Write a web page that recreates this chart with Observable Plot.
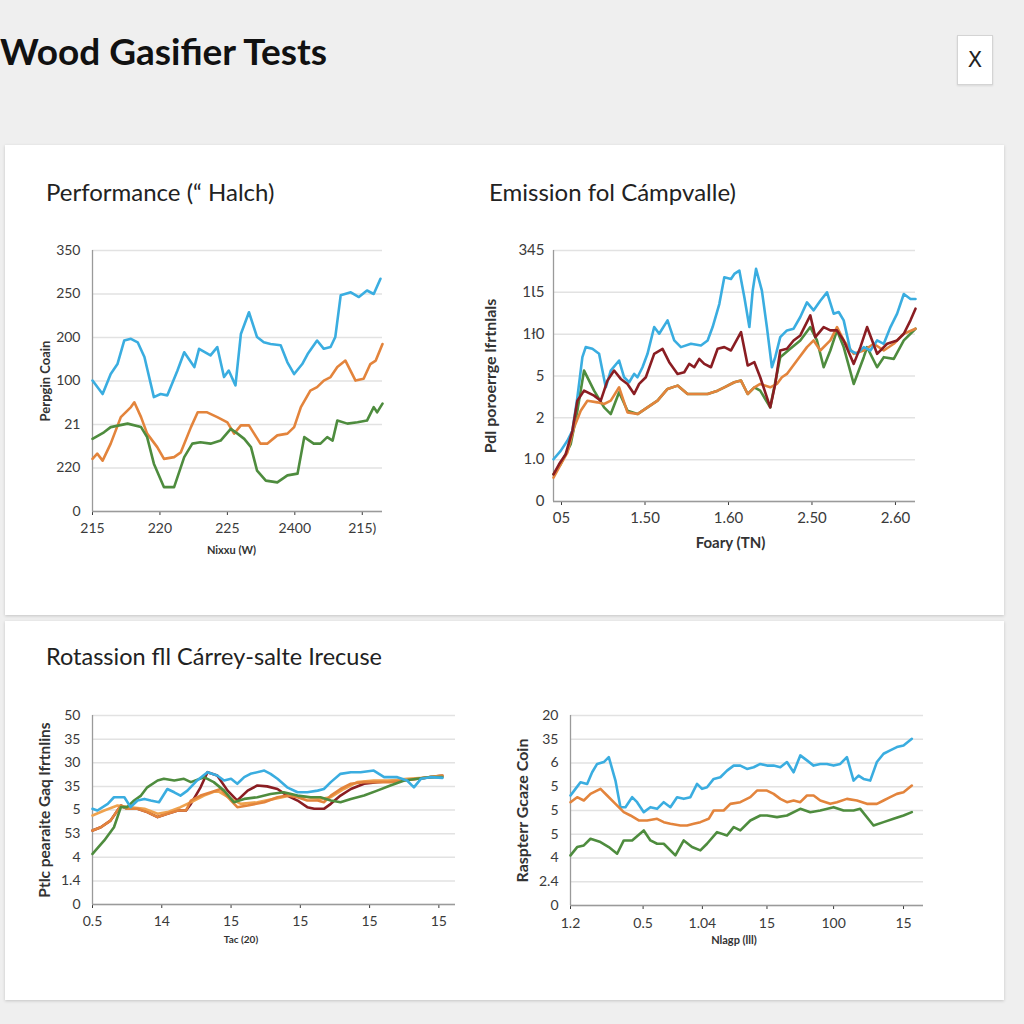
<!DOCTYPE html>
<html>
<head>
<meta charset="utf-8">
<script src="https://cdn.jsdelivr.net/npm/d3@7"></script>
<script src="https://cdn.jsdelivr.net/npm/@observablehq/plot@0.6"></script>
<style>
  html, body { margin: 0; padding: 0; }
  body { width: 1024px; height: 1024px; background: #efefef; position: relative; overflow: hidden; font-family: Lato, "Open Sans", sans-serif; }
  .abs { position: absolute; }
  .card { position: absolute; background: #fff; box-shadow: 0 1px 3px rgba(0,0,0,0.18); }
  .title { position: absolute; font-weight: 700; font-size: 37px; line-height: 1; color: #111; white-space: nowrap; }
  .ptitle { position: absolute; font-size: 24px; line-height: 1; color: #222; white-space: nowrap; }
  .xbtn { position: absolute; left: 957px; top: 35px; width: 34px; height: 48px; background: #fff; border: 1px solid #d4d4d4; box-shadow: 0 1px 2px rgba(0,0,0,0.1); font-size: 21px; color: #222; display: flex; align-items: center; justify-content: center; font-family: "DejaVu Sans", sans-serif; }
</style>
</head>
<body>
<div class="title" style="left:0px;top:32px">Wood Gasifier Tests</div>
<div class="xbtn">X</div>
<div class="card" style="left:5px;top:145px;width:999px;height:470px"></div>
<div class="card" style="left:5px;top:621px;width:999px;height:379px"></div>
<div class="ptitle" style="left:46px;top:180px">Performance (“ Halch)</div>
<div class="ptitle" style="left:489px;top:180px">Emission fol Cámpvalle)</div>
<div class="ptitle" style="left:46px;top:645px;font-size:23.5px">Rotassion fll Cárrey-salte Irecuse</div>
<div id="p1" class="abs" style="left:30px;top:225px"></div>
<div id="p2" class="abs" style="left:475px;top:225px"></div>
<div id="p3" class="abs" style="left:30px;top:690px"></div>
<div id="p4" class="abs" style="left:500px;top:690px"></div>
<script>
// ---------- colours ----------
const BLUE = "#3aade0", ORANGE = "#e3843c", GREEN = "#4e8c3e", RED = "#8a1d22", TAN = "#efa24e";

// ---------- Panel 1: Performance ----------
const p1XTicks = [0, 1, 2, 3, 4];
const p1XLabels = ["215", "220", "225", "2400", "215)"];
const p1YLabels = ["0", "220", "21", "100", "200", "250", "350"];
const p1Blue = [[0,3.01],[0.15,2.70],[0.27,3.16],[0.37,3.39],[0.47,3.93],[0.57,3.97],[0.67,3.89],[0.77,3.55],[0.91,2.63],[1.01,2.70],[1.11,2.67],[1.26,3.24],[1.36,3.66],[1.51,3.32],[1.58,3.74],[1.75,3.59],[1.85,3.78],[1.95,3.09],[2.02,3.24],[2.12,2.90],[2.20,4.08],[2.32,4.58],[2.44,4.01],[2.54,3.89],[2.64,3.85],[2.79,3.82],[2.89,3.43],[2.99,3.16],[3.11,3.39],[3.19,3.62],[3.33,3.93],[3.43,3.74],[3.53,3.78],[3.60,4.01],[3.68,4.97],[3.83,5.04],[3.95,4.93],[4.07,5.08],[4.17,5.00],[4.27,5.35]];
const p1Orange = [[0,1.21],[0.07,1.33],[0.15,1.17],[0.27,1.56],[0.42,2.17],[0.57,2.40],[0.62,2.51],[0.72,2.17],[0.81,1.79],[0.96,1.48],[1.06,1.21],[1.21,1.25],[1.31,1.36],[1.46,1.94],[1.56,2.28],[1.70,2.28],[1.85,2.17],[2.00,2.05],[2.10,1.79],[2.20,1.98],[2.32,1.98],[2.49,1.56],[2.59,1.56],[2.74,1.75],[2.89,1.79],[2.99,1.94],[3.09,2.40],[3.23,2.78],[3.33,2.86],[3.43,3.01],[3.53,3.09],[3.63,3.32],[3.75,3.47],[3.90,3.01],[4.02,3.05],[4.12,3.39],[4.20,3.47],[4.30,3.85]];
const p1Green = [[0,1.67],[0.17,1.82],[0.27,1.94],[0.52,2.02],[0.72,1.94],[0.81,1.71],[0.91,1.10],[1.06,0.56],[1.21,0.56],[1.36,1.25],[1.48,1.56],[1.60,1.59],[1.75,1.56],[1.90,1.63],[2.05,1.90],[2.15,1.79],[2.25,1.67],[2.35,1.48],[2.44,0.94],[2.57,0.71],[2.74,0.67],[2.89,0.83],[3.04,0.87],[3.14,1.71],[3.28,1.56],[3.38,1.56],[3.48,1.71],[3.56,1.63],[3.63,2.09],[3.78,2.02],[3.93,2.05],[4.07,2.09],[4.17,2.40],[4.22,2.28],[4.30,2.48]];

// ---------- Panel 2: Emission ----------
const p2XTicks = [0, 1, 2, 3, 4];
const p2XLabels = ["05", "1.50", "1.60", "2.50", "2.60"];
const p2YLabels = ["0", "1.0", "2", "5", "1ł0", "1Ɩ5", "345"];
const p2Blue = [[-0.096,1.01],[-0.01,1.21],[0.07,1.45],[0.13,1.69],[0.19,2.49],[0.25,3.45],[0.29,3.69],[0.37,3.65],[0.45,3.53],[0.49,3.13],[0.53,2.73],[0.59,3.13],[0.69,3.37],[0.75,2.97],[0.81,2.85],[0.87,3.05],[0.91,2.97],[0.97,3.21],[1.03,3.53],[1.11,4.17],[1.17,4.01],[1.27,4.33],[1.35,3.85],[1.43,3.69],[1.55,3.77],[1.67,3.73],[1.75,3.85],[1.81,4.17],[1.89,4.72],[1.95,5.36],[2.03,5.32],[2.07,5.44],[2.13,5.52],[2.19,4.88],[2.25,4.17],[2.29,5.04],[2.33,5.56],[2.40,5.04],[2.46,4.17],[2.52,3.21],[2.56,3.45],[2.62,3.93],[2.70,4.09],[2.78,4.13],[2.86,4.41],[2.94,4.76],[3.02,4.57],[3.10,4.80],[3.18,5.00],[3.26,4.49],[3.32,4.53],[3.38,4.33],[3.46,3.61],[3.54,3.53],[3.62,3.69],[3.70,3.61],[3.78,3.85],[3.86,3.77],[3.94,4.17],[4.02,4.49],[4.10,4.96],[4.18,4.84],[4.24,4.84]];
const p2Red = [[-0.096,0.65],[-0.03,0.89],[0.05,1.13],[0.13,1.69],[0.19,2.41],[0.27,2.65],[0.39,2.53],[0.47,2.41],[0.55,2.89],[0.63,3.13],[0.71,2.93],[0.79,2.81],[0.87,2.57],[0.93,2.81],[1.01,2.97],[1.11,3.53],[1.21,3.65],[1.29,3.33],[1.39,3.05],[1.47,3.09],[1.53,3.29],[1.59,3.21],[1.65,3.41],[1.71,3.29],[1.79,3.21],[1.87,3.65],[1.95,3.69],[2.03,3.61],[2.15,4.05],[2.23,3.25],[2.31,3.33],[2.38,2.97],[2.50,2.25],[2.56,2.81],[2.62,3.61],[2.70,3.65],[2.78,3.85],[2.86,3.97],[2.98,4.45],[3.04,3.93],[3.14,4.17],[3.22,4.09],[3.30,4.09],[3.38,3.85],[3.50,3.29],[3.58,3.69],[3.66,4.17],[3.78,3.53],[3.90,3.77],[4.02,3.85],[4.10,4.01],[4.18,4.33],[4.24,4.61]];
const p2Orange = [[-0.096,0.57],[-0.01,0.89],[0.07,1.17],[0.15,1.77],[0.23,2.17],[0.31,2.41],[0.43,2.37],[0.51,2.33],[0.59,2.41],[0.69,2.73],[0.79,2.13],[0.91,2.09],[1.03,2.25],[1.15,2.41],[1.27,2.69],[1.39,2.77],[1.51,2.57],[1.63,2.57],[1.75,2.57],[1.87,2.65],[1.95,2.73],[2.07,2.85],[2.15,2.89],[2.23,2.57],[2.31,2.73],[2.38,2.81],[2.50,2.73],[2.58,2.81],[2.64,2.97],[2.70,3.05],[2.82,3.37],[2.94,3.69],[3.02,3.85],[3.10,3.61],[3.22,3.85],[3.30,4.17],[3.38,3.85],[3.50,3.53],[3.62,3.61],[3.74,3.77],[3.86,3.61],[3.98,3.77],[4.10,4.01],[4.24,4.13]];
const p2Green = [[-0.096,0.65],[-0.01,0.89],[0.11,1.37],[0.19,2.17],[0.27,3.13],[0.39,2.65],[0.51,2.25],[0.59,2.09],[0.69,2.61],[0.79,2.17],[0.91,2.09],[1.03,2.25],[1.15,2.41],[1.27,2.69],[1.39,2.77],[1.51,2.57],[1.63,2.57],[1.75,2.57],[1.87,2.65],[1.95,2.73],[2.07,2.85],[2.15,2.89],[2.23,2.57],[2.31,2.73],[2.38,2.65],[2.50,2.25],[2.62,3.45],[2.74,3.65],[2.86,3.85],[2.98,4.17],[3.06,3.85],[3.14,3.21],[3.22,3.61],[3.30,4.09],[3.38,3.69],[3.50,2.81],[3.62,3.45],[3.66,3.69],[3.78,3.21],[3.86,3.45],[3.98,3.41],[4.10,3.85],[4.24,4.13]];

// ---------- Panel 3: Rotassion ----------
const p3XTicks = [0, 1, 2, 3, 4, 5];
const p3XLabels = ["0.5", "14", "15", "15", "15", "15"];
const p3YLabels = ["0", "1.4", "4", "53", "5", "35", "30", "35", "50"];
const p3Blue = [[0,4.05],[0.07,3.98],[0.22,4.26],[0.31,4.54],[0.46,4.54],[0.55,4.12],[0.65,4.40],[0.75,4.47],[0.84,4.40],[0.96,4.33],[1.08,4.89],[1.18,4.75],[1.27,4.61],[1.37,4.82],[1.51,5.25],[1.66,5.60],[1.80,5.46],[1.90,5.25],[2.00,5.32],[2.09,5.11],[2.19,5.39],[2.28,5.53],[2.48,5.67],[2.57,5.53],[2.67,5.32],[2.81,4.96],[2.96,4.75],[3.10,4.75],[3.25,4.82],[3.34,4.89],[3.44,5.18],[3.58,5.53],[3.73,5.60],[3.87,5.60],[4.06,5.67],[4.21,5.39],[4.40,5.39],[4.54,5.25],[4.64,4.96],[4.74,5.32],[4.88,5.39],[5.05,5.36]];
const p3Orange = [[0,3.13],[0.12,3.27],[0.26,3.55],[0.41,4.19],[0.50,4.05],[0.65,4.05],[0.79,3.91],[0.94,3.70],[1.08,3.84],[1.23,3.98],[1.35,3.98],[1.42,4.40],[1.56,4.61],[1.71,4.75],[1.85,4.89],[2.00,4.40],[2.09,4.12],[2.24,4.19],[2.48,4.33],[2.67,4.54],[2.81,4.61],[2.96,4.54],[3.10,4.40],[3.25,4.40],[3.34,4.33],[3.44,4.61],[3.58,4.89],[3.73,5.11],[3.92,5.18],[4.11,5.18],[4.30,5.18],[4.50,5.25],[4.69,5.32],[4.88,5.39],[5.05,5.42]];
const p3Tan = [[0,3.77],[0.17,3.98],[0.36,4.19],[0.55,4.12],[0.75,4.05],[0.94,3.84],[1.08,3.91],[1.27,4.12],[1.42,4.33],[1.61,4.61],[1.80,4.82],[2.00,4.47],[2.14,4.26],[2.38,4.33],[2.62,4.47],[2.86,4.61],[3.10,4.54],[3.30,4.47],[3.44,4.54],[3.63,4.89],[3.82,5.18],[4.06,5.25],[4.30,5.25],[4.54,5.32],[4.78,5.36],[5.05,5.46]];
const p3Red = [[0,3.13],[0.12,3.27],[0.26,3.55],[0.41,4.19],[0.50,4.05],[0.65,4.05],[0.79,3.91],[0.94,3.70],[1.08,3.84],[1.23,3.98],[1.35,3.98],[1.42,4.26],[1.56,4.96],[1.66,5.60],[1.80,5.46],[1.95,4.82],[2.09,4.40],[2.24,4.82],[2.38,5.04],[2.52,5.00],[2.67,4.89],[2.81,4.61],[2.96,4.40],[3.10,4.12],[3.20,4.05],[3.34,4.05],[3.44,4.26],[3.58,4.61],[3.73,4.89],[3.92,5.11],[4.11,5.18],[4.40,5.25],[4.69,5.32],[4.88,5.39],[5.05,5.46]];
const p3Green = [[0,2.14],[0.17,2.71],[0.31,3.27],[0.41,4.12],[0.50,4.12],[0.60,4.40],[0.70,4.61],[0.79,4.96],[0.94,5.25],[1.03,5.32],[1.18,5.25],[1.32,5.32],[1.42,5.18],[1.61,5.39],[1.75,5.18],[1.90,4.82],[2.04,4.33],[2.19,4.47],[2.38,4.54],[2.57,4.68],[2.76,4.75],[2.96,4.61],[3.15,4.54],[3.29,4.54],[3.44,4.40],[3.58,4.33],[3.73,4.47],[3.92,4.61],[4.11,4.82],[4.30,5.04],[4.50,5.25],[4.69,5.32],[4.88,5.39],[5.05,5.39]];

// ---------- Panel 4 ----------
const p4XTicks = [0, 1.09, 1.98, 2.95, 3.95, 5.0];
const p4XLabels = ["1.2", "0.5", "1.04", "15", "100", "15"];
const p4YLabels = ["0", "2.4", "4", "5", "5", "5", "6", "35", "20"];
const p4Blue = [[0,4.63],[0.075,4.91],[0.15,5.19],[0.25,5.12],[0.325,5.61],[0.40,5.96],[0.50,6.04],[0.575,6.25],[0.675,5.26],[0.75,4.14],[0.825,4.14],[0.925,4.56],[1.0,4.35],[1.1,3.93],[1.2,4.14],[1.3,4.07],[1.4,4.35],[1.5,4.14],[1.6,4.56],[1.7,4.49],[1.8,4.56],[1.9,5.12],[1.975,4.91],[2.05,4.98],[2.15,5.33],[2.25,5.40],[2.35,5.68],[2.45,5.89],[2.55,5.89],[2.65,5.75],[2.75,5.82],[2.85,5.96],[2.95,5.89],[3.05,5.89],[3.15,5.82],[3.25,6.04],[3.35,5.61],[3.45,6.32],[3.55,6.11],[3.65,5.89],[3.75,5.96],[3.85,5.96],[3.95,5.89],[4.05,5.96],[4.15,6.25],[4.25,5.26],[4.325,5.47],[4.4,5.33],[4.5,5.26],[4.6,6.04],[4.7,6.39],[4.8,6.53],[4.9,6.67],[5.0,6.74],[5.125,7.02]];
const p4Orange = [[0,4.35],[0.1,4.56],[0.2,4.42],[0.3,4.70],[0.45,4.91],[0.55,4.63],[0.675,4.28],[0.8,3.93],[0.9,3.79],[1.025,3.58],[1.15,3.58],[1.3,3.65],[1.4,3.51],[1.5,3.44],[1.65,3.37],[1.75,3.37],[1.85,3.44],[1.95,3.51],[2.075,3.65],[2.15,4.00],[2.3,4.00],[2.4,4.28],[2.55,4.35],[2.7,4.56],[2.8,4.84],[2.95,4.84],[3.05,4.70],[3.15,4.49],[3.25,4.35],[3.35,4.42],[3.45,4.35],[3.55,4.63],[3.65,4.63],[3.75,4.42],[3.9,4.28],[4.0,4.35],[4.15,4.49],[4.3,4.42],[4.45,4.28],[4.6,4.28],[4.7,4.42],[4.8,4.56],[4.9,4.70],[5.0,4.77],[5.125,5.05]];
const p4Green = [[0,2.11],[0.1,2.46],[0.2,2.53],[0.3,2.81],[0.45,2.67],[0.575,2.46],[0.7,2.18],[0.8,2.74],[0.925,2.74],[1.1,3.16],[1.2,2.74],[1.3,2.60],[1.4,2.60],[1.575,2.11],[1.7,2.74],[1.825,2.46],[1.95,2.32],[2.05,2.60],[2.2,3.09],[2.35,2.95],[2.45,3.30],[2.55,3.16],[2.7,3.58],[2.85,3.79],[2.95,3.79],[3.1,3.72],[3.25,3.79],[3.45,4.07],[3.6,3.93],[3.75,4.00],[3.95,4.14],[4.1,4.00],[4.25,4.00],[4.35,4.07],[4.55,3.37],[4.7,3.51],[4.85,3.65],[5.0,3.79],[5.125,3.93]];

// ---------- builder ----------
function panel(cfg) {
  const fmtX = d => cfg.xLabels[cfg.xTicks.indexOf(d)];
  const yTicks = cfg.yLabels.map((_, i) => i);
  const fmtY = d => cfg.yLabels[d];
  const marks = [
    Plot.gridY(yTicks, {stroke: "#e2e2e2", strokeOpacity: 1, strokeWidth: 1.5}),
    Plot.axisY(yTicks, {tickFormat: fmtY, tickSize: 0, tickPadding: cfg.yPad, fontSize: cfg.tickFont, color: "#3a3a3a", label: null}),
    Plot.axisX(cfg.xTicks, {tickFormat: fmtX, tickSize: 4, tickPadding: cfg.xPad, fontSize: cfg.tickFont, color: "#3a3a3a", label: null}),
    Plot.ruleX([cfg.xDomain[0]], {stroke: "#9a9a9a", strokeWidth: 1.3}),
    Plot.ruleY([0], {stroke: "#9a9a9a", strokeWidth: 1.3}),
    ...cfg.series.map(s => Plot.line(s.data, {x: d => d[0], y: d => d[1], stroke: s.color, strokeWidth: 2.6, strokeLinejoin: "round", strokeLinecap: "round"})),
    Plot.text([cfg.yTitle], {frameAnchor: "left", textAnchor: "middle", rotate: -90, dx: cfg.yTitleDx, fontWeight: "bold", fontSize: cfg.yTitleSize, fill: "#333"}),
    Plot.text([cfg.xTitle], {frameAnchor: "bottom", textAnchor: "middle", dx: cfg.xTitleDx, dy: cfg.xTitleDy, fontWeight: "bold", fontSize: cfg.xTitleSize, fill: "#333"})
  ];
  return Plot.plot({
    width: cfg.width, height: cfg.height,
    marginLeft: cfg.m[0], marginRight: cfg.m[1], marginTop: cfg.m[2], marginBottom: cfg.m[3],
    x: {domain: cfg.xDomain, axis: null},
    y: {domain: [0, cfg.yLabels.length - 1], axis: null},
    style: {fontFamily: "Lato, 'Open Sans', sans-serif", background: "transparent", overflow: "visible"},
    marks
  });
}

document.getElementById("p1").appendChild(panel({
  width: 370, height: 345, m: [62, 18, 25, 59], xDomain: [0, 4.3],
  xTicks: p1XTicks, xLabels: p1XLabels, yLabels: p1YLabels, yPad: 12, xPad: 8, tickFont: 14,
  yTitle: "Perpgin Coain", yTitleDx: -47, yTitleSize: 13,
  xTitle: "Nixxu (W)", xTitleDx: -6, xTitleDy: 42, xTitleSize: 11,
  series: [{data: p1Blue, color: BLUE}, {data: p1Orange, color: ORANGE}, {data: p1Green, color: GREEN}]
}));

document.getElementById("p2").appendChild(panel({
  width: 455, height: 345, m: [78, 15, 25, 69], xDomain: [-0.096, 4.24],
  xTicks: p2XTicks, xLabels: p2XLabels, yLabels: p2YLabels, yPad: 9, xPad: 7, tickFont: 15,
  yTitle: "Pdl poroerrge lfrtnlals", yTitleDx: -63, yTitleSize: 16,
  xTitle: "Foary (TN)", xTitleDx: -4, xTitleDy: 46, xTitleSize: 15,
  series: [{data: p2Green, color: GREEN}, {data: p2Orange, color: ORANGE}, {data: p2Blue, color: BLUE}, {data: p2Red, color: RED}]
}));

document.getElementById("p3").appendChild(panel({
  width: 440, height: 270, m: [62, 15, 25, 56], xDomain: [0, 5.24],
  xTicks: p3XTicks, xLabels: p3XLabels, yLabels: p3YLabels, yPad: 12, xPad: 8, tickFont: 14,
  yTitle: "Ptlc pearaite Gaq lfrtnlins", yTitleDx: -47, yTitleSize: 15.5,
  xTitle: "Tac (20)", xTitleDx: -33, xTitleDy: 38, xTitleSize: 10,
  series: [{data: p3Red, color: RED}, {data: p3Tan, color: TAN}, {data: p3Orange, color: ORANGE}, {data: p3Green, color: GREEN}, {data: p3Blue, color: BLUE}]
}));

document.getElementById("p4").appendChild(panel({
  width: 440, height: 270, m: [70, 17, 25, 55], xDomain: [0, 5.3],
  xTicks: p4XTicks, xLabels: p4XLabels, yLabels: p4YLabels, yPad: 12, xPad: 9, tickFont: 14,
  yTitle: "Raspterr Gcaze Coin", yTitleDx: -48, yTitleSize: 16,
  xTitle: "Nlagp (lll)", xTitleDx: -13, xTitleDy: 38, xTitleSize: 11,
  series: [{data: p4Blue, color: BLUE}, {data: p4Orange, color: ORANGE}, {data: p4Green, color: GREEN}]
}));
</script>
</body>
</html>
